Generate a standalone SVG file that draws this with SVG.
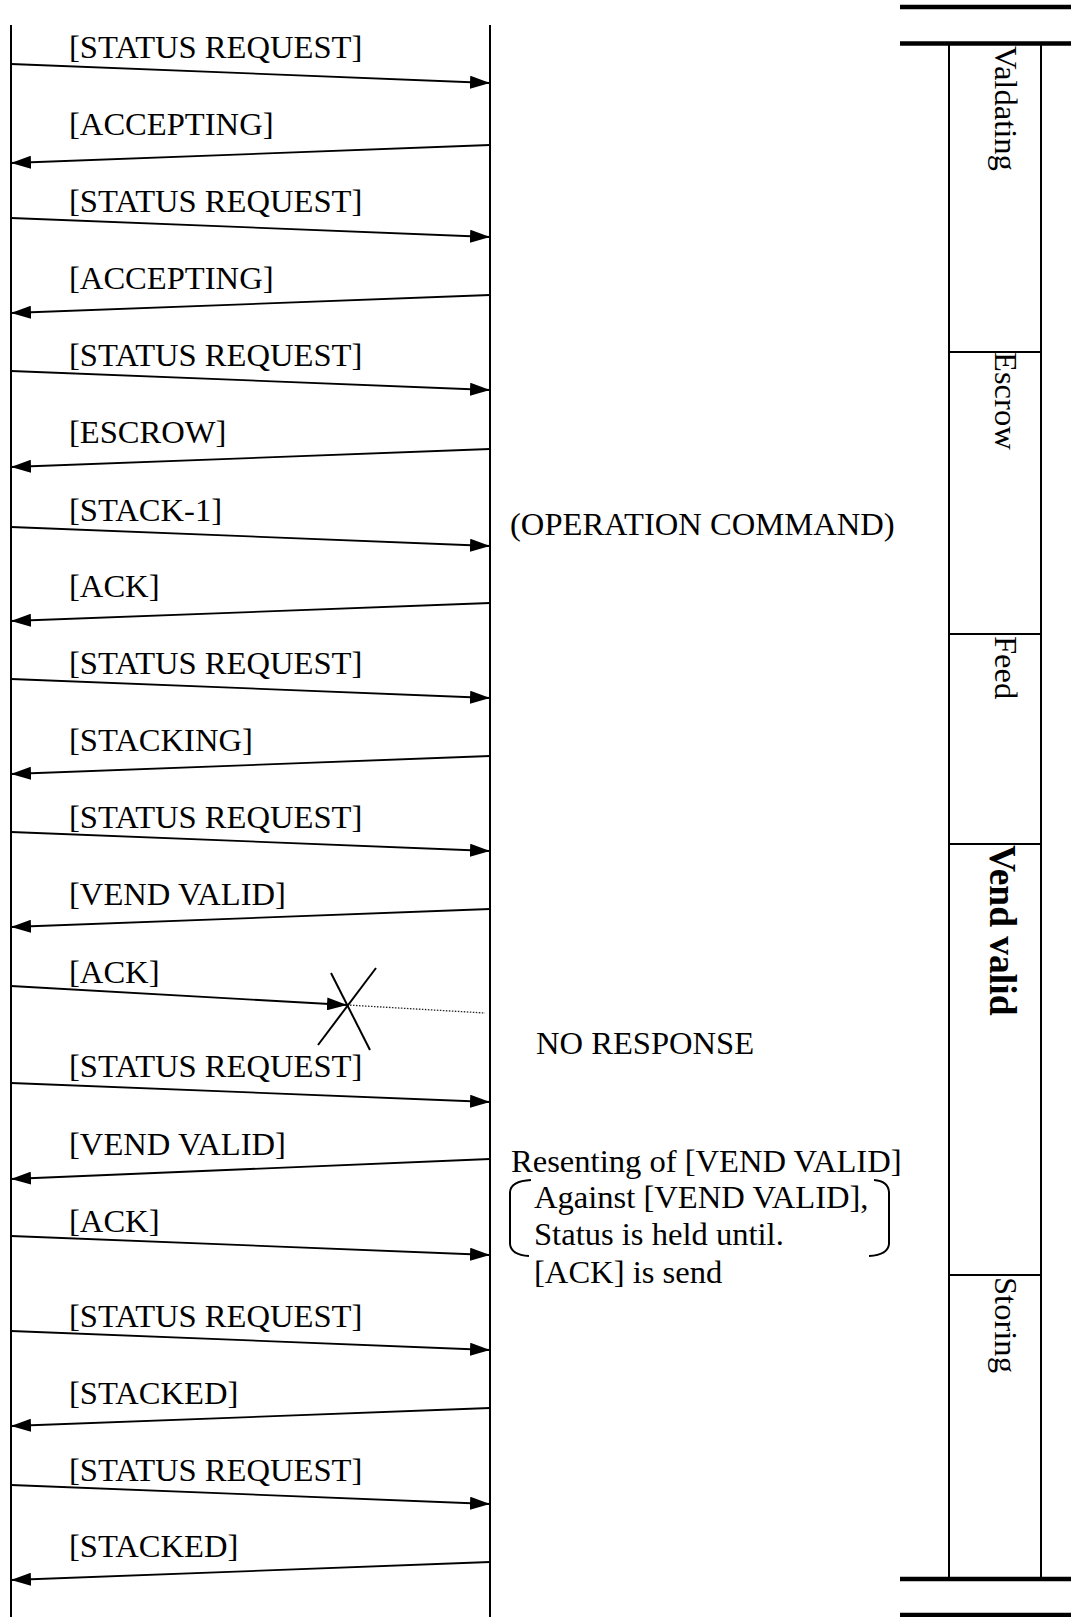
<svg xmlns="http://www.w3.org/2000/svg" width="1071" height="1617" viewBox="0 0 1071 1617">
<style>
.t{font-family:"Liberation Serif","Times New Roman",serif;font-size:32.6px;fill:#000}
.vt{font-family:"Liberation Serif","Times New Roman",serif;font-size:32.6px;fill:#000}
.vb{font-family:"Liberation Serif","Times New Roman",serif;font-size:37.5px;font-weight:bold;fill:#000}
.life{stroke:#000;stroke-width:2;fill:none}
.msg{stroke:#000;stroke-width:1.8;fill:none;marker-end:url(#ah)}
.thick{stroke:#000;stroke-width:4.5;fill:none}
.thin{stroke:#000;stroke-width:2;fill:none}
</style>
<defs>
<marker id="ah" markerUnits="userSpaceOnUse" markerWidth="20" markerHeight="13" refX="20" refY="6.5" orient="auto">
<path d="M0,0 L20,6.5 L0,13 z" fill="#000"/>
</marker>
</defs>
<rect width="1071" height="1617" fill="#fff"/>
<g id="lifeline-left"><line class="life" x1="11" y1="25" x2="11" y2="1617"/></g>
<g id="lifeline-right"><line class="life" x1="490" y1="25" x2="490" y2="1617"/></g>
<g id="state-column">
<line class="thick" x1="900" y1="7" x2="1071" y2="7"/>
<line class="thick" x1="900" y1="43.5" x2="1071" y2="43.5"/>
<line class="thick" x1="900" y1="1579" x2="1071" y2="1579"/>
<line class="thick" x1="900" y1="1615" x2="1071" y2="1615"/>
<line class="thin" x1="949" y1="43" x2="949" y2="1579"/>
<line class="thin" x1="1041" y1="43" x2="1041" y2="1579"/>
<line class="thin" x1="949" y1="352" x2="1041" y2="352"/>
<line class="thin" x1="949" y1="634" x2="1041" y2="634"/>
<line class="thin" x1="949" y1="844" x2="1041" y2="844"/>
<line class="thin" x1="949" y1="1275" x2="1041" y2="1275"/>
</g>
<g id="state-validating"><text class="vt" transform="translate(995,46) rotate(90)">Valdating</text></g>
<g id="state-escrow"><text class="vt" transform="translate(995,352) rotate(90)">Escrow</text></g>
<g id="state-feed"><text class="vt" transform="translate(995,636) rotate(90)">Feed</text></g>
<g id="state-vendvalid"><text class="vb" transform="translate(990,845) rotate(90)">Vend valid</text></g>
<g id="state-storing"><text class="vt" transform="translate(995,1277) rotate(90)">Storing</text></g>
<g id="connectors">
<line class="msg" x1="11" y1="64" x2="490" y2="83"/>
<line class="msg" x1="490" y1="145" x2="11" y2="163"/>
<line class="msg" x1="11" y1="218" x2="490" y2="237"/>
<line class="msg" x1="490" y1="295" x2="11" y2="313"/>
<line class="msg" x1="11" y1="371" x2="490" y2="390"/>
<line class="msg" x1="490" y1="449" x2="11" y2="467"/>
<line class="msg" x1="11" y1="527" x2="490" y2="546"/>
<line class="msg" x1="490" y1="603" x2="11" y2="621"/>
<line class="msg" x1="11" y1="679" x2="490" y2="698"/>
<line class="msg" x1="490" y1="756" x2="11" y2="774"/>
<line class="msg" x1="11" y1="832" x2="490" y2="851"/>
<line class="msg" x1="490" y1="909" x2="11" y2="927"/>
<line class="msg" x1="11" y1="986" x2="347" y2="1005"/>
<line x1="347" y1="1005" x2="485" y2="1013" stroke="#222" stroke-width="1.3" stroke-dasharray="1.5,1.5"/>
<line class="thin" x1="331" y1="973" x2="370" y2="1050"/>
<line class="thin" x1="376" y1="968" x2="318" y2="1045"/>
<line class="msg" x1="11" y1="1083" x2="490" y2="1102"/>
<line class="msg" x1="490" y1="1159" x2="11" y2="1179"/>
<line class="msg" x1="11" y1="1236" x2="490" y2="1255"/>
<line class="msg" x1="11" y1="1331" x2="490" y2="1350"/>
<line class="msg" x1="490" y1="1408" x2="11" y2="1426"/>
<line class="msg" x1="11" y1="1485" x2="490" y2="1504"/>
<line class="msg" x1="490" y1="1562" x2="11" y2="1580"/>
</g>
<g id="labels">
<text class="t" x="69" y="58">[STATUS REQUEST]</text>
<text class="t" x="69" y="135">[ACCEPTING]</text>
<text class="t" x="69" y="212">[STATUS REQUEST]</text>
<text class="t" x="69" y="289">[ACCEPTING]</text>
<text class="t" x="69" y="366">[STATUS REQUEST]</text>
<text class="t" x="69" y="443">[ESCROW]</text>
<text class="t" x="69" y="521">[STACK-1]</text>
<text class="t" x="69" y="597">[ACK]</text>
<text class="t" x="69" y="674">[STATUS REQUEST]</text>
<text class="t" x="69" y="751">[STACKING]</text>
<text class="t" x="69" y="828">[STATUS REQUEST]</text>
<text class="t" x="69" y="905">[VEND VALID]</text>
<text class="t" x="69" y="983">[ACK]</text>
<text class="t" x="69" y="1077">[STATUS REQUEST]</text>
<text class="t" x="69" y="1155">[VEND VALID]</text>
<text class="t" x="69" y="1232">[ACK]</text>
<text class="t" x="69" y="1327">[STATUS REQUEST]</text>
<text class="t" x="69" y="1404">[STACKED]</text>
<text class="t" x="69" y="1481">[STATUS REQUEST]</text>
<text class="t" x="69" y="1557">[STACKED]</text>
</g>
<g id="note-operation"><text class="t" x="510" y="535">(OPERATION COMMAND)</text></g>
<g id="note-noresponse"><text class="t" x="536" y="1054">NO RESPONSE</text></g>
<g id="note-resend">
<text class="t" x="511" y="1172">Resenting of [VEND VALID]</text>
<text class="t" x="534" y="1208">Against [VEND VALID],</text>
<text class="t" x="534" y="1245">Status is held until.</text>
<text class="t" x="534" y="1283">[ACK] is send</text>
<path class="thin" d="M531,1180 Q511,1181 510,1192 L510,1244 Q511,1255 529,1256"/>
<path class="thin" d="M874,1180 Q888,1181 889,1192 L889,1244 Q888,1255 869,1256"/>
</g>
</svg>
